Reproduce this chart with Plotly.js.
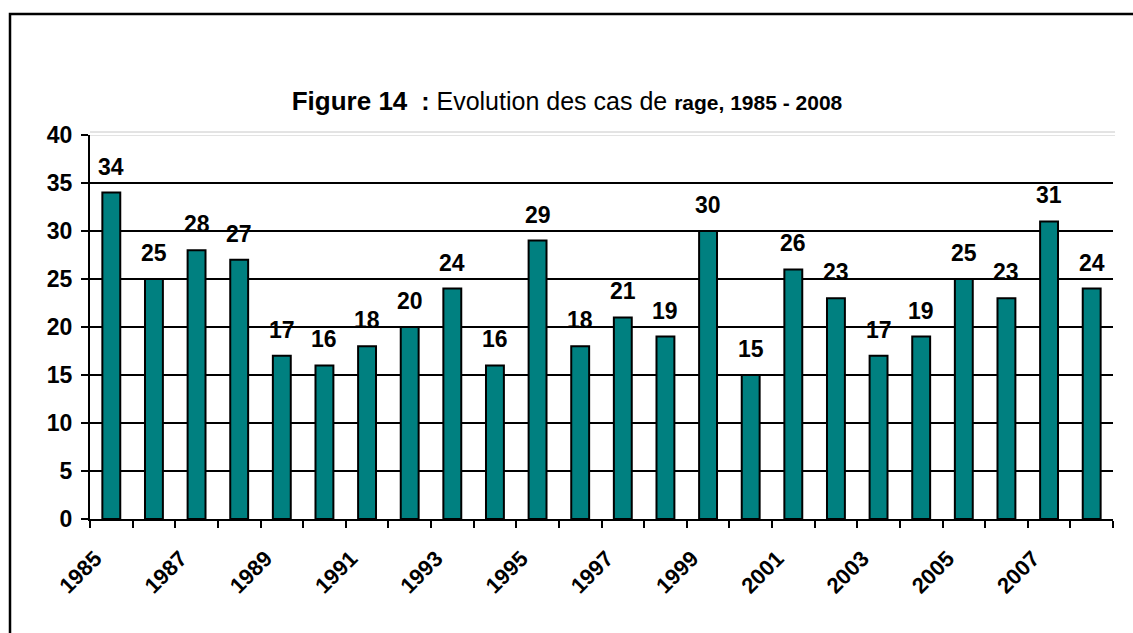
<!DOCTYPE html>
<html><head><meta charset="utf-8">
<script src="https://cdn.plot.ly/plotly-3.0.1.min.js"></script>
<style>html,body{margin:0;padding:0;background:#fff}#c{width:1133px;height:633px}</style>
</head><body><div id="c"></div>
<script>
const years = [1985,1986,1987,1988,1989,1990,1991,1992,1993,1994,1995,1996,1997,1998,1999,2000,2001,2002,2003,2004,2005,2006,2007,2008];
const cases = [34,25,28,27,17,16,18,20,24,16,29,18,21,19,30,15,26,23,17,19,25,23,31,24];
const labelYears = [1985,1987,1989,1991,1993,1995,1997,1999,2001,2003,2005,2007];
const yTicks = [0,5,10,15,20,25,30,35,40];

const F = 'Liberation Sans, Arial, sans-serif';

const trace = {
  type: 'bar', x: years, y: cases, width: 0.42,
  marker: {color: '#008080', line: {color: '#000', width: 2}},
  hoverinfo: 'skip'
};

const annotations = years.map((yr, i) => ({
  x: yr, y: cases[i], xref: 'x', yref: 'y', text: String(cases[i]),
  showarrow: false, yanchor: 'bottom', yshift: 11,
  font: {family: F, size: 23, color: '#000', weight: 'bold'}
}));

const layout = {
  width: 1133, height: 633,
  margin: {l: 90, r: 20, t: 135, b: 114},
  paper_bgcolor: '#fff', plot_bgcolor: '#fff',
  showlegend: false,
  font: {family: F, color: '#000'},
  title: {
    text: '<b><span style="font-size:26px">Figure 14</span>  : </b><span style="font-size:25px">Evolution des cas de </span><b><span style="font-size:21px">rage, 1985 - 2008</span></b>',
    xref: 'container', x: 567/1133, xanchor: 'center',
    yref: 'container', y: 1 - 101/633, yanchor: 'middle',
    font: {family: F, size: 25, color: '#000'}
  },
  xaxis: {
    range: [1984.5, 2008.5],
    tickmode: 'array', tickvals: labelYears, ticktext: labelYears.map(String),
    ticks: '', tickangle: -45,
    ticklabelstandoff: 16, ticklabelshift: -16,
    tickfont: {family: F, size: 22, color: '#000', weight: 'bold'},
    showgrid: false, zeroline: false,
    showline: true, linecolor: '#000', linewidth: 2,
    minor: {tick0: 1984.5, dtick: 1, ticks: 'outside', ticklen: 7, tickwidth: 2, tickcolor: '#000', showgrid: false},
    fixedrange: true
  },
  yaxis: {
    range: [0, 40], tickmode: 'array', tickvals: yTicks,
    ticks: 'outside', ticklen: 7, tickwidth: 2, tickcolor: '#000',
    ticklabelstandoff: 4,
    tickfont: {family: F, size: 23, color: '#000', weight: 'bold'},
    showgrid: true, gridcolor: '#000', gridwidth: 2,
    zeroline: false, showline: true, linecolor: '#000', linewidth: 2,
    fixedrange: true
  },
  annotations: annotations,
  shapes: [
    {type: 'line', xref: 'paper', yref: 'y', x0: 0, x1: 1, y0: 40, y1: 40, line: {color: '#fff', width: 4}},
    {type: 'line', xref: 'paper', yref: 'y', x0: 0, x1: 1.002, y0: 40, y1: 40, line: {color: '#c8c8c8', width: 1}},
    {type: 'line', xref: 'paper', yref: 'paper', x0: 0, x1: 1.002, y0: 1 + 3/384, y1: 1 + 3/384, line: {color: '#c8c8c8', width: 1}},
    {type: 'rect', xref: 'paper', yref: 'paper', x0: -80/1023, x1: 1.2, y0: -0.5, y1: (519-14)/384, line: {color: '#000', width: 2.5}, fillcolor: 'rgba(0,0,0,0)'}
  ]
};

Plotly.newPlot('c', [trace], layout, {displayModeBar: false, staticPlot: true});
</script></body></html>
